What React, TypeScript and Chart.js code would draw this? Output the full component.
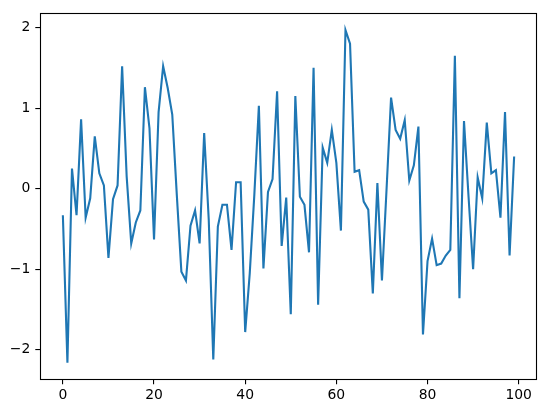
import React, { useEffect, useRef } from "react";
import { Chart, registerables } from "chart.js";

Chart.register(...registerables);

const seriesValues: number[] = [
  -0.33, -2.16, 0.25, -0.33, 0.86, -0.36, -0.12, 0.65, 0.19, 0.04,
  -0.86, -0.13, 0.04, 1.52, 0.15, -0.68, -0.42, -0.27, 1.26, 0.75,
  -0.63, 0.95, 1.52, 1.25, 0.92, -0.08, -1.03, -1.14, -0.46, -0.27,
  -0.68, 0.69, -0.38, -2.12, -0.47, -0.2, -0.2, -0.76, 0.08, 0.08,
  -1.78, -1.05, -0.08, 1.03, -0.99, -0.04, 0.12, 1.21, -0.71, -0.11,
  -1.56, 1.15, -0.1, -0.2, -0.79, 1.5, -1.44, 0.51, 0.32, 0.73,
  0.32, -0.52, 1.97, 1.8, 0.21, 0.23, -0.16, -0.26, -1.3, 0.07,
  -1.14, -0.02, 1.13, 0.73, 0.62, 0.85, 0.1, 0.29, 0.77, -1.81,
  -0.9, -0.62, -0.95, -0.93, -0.83, -0.76, 1.65, -1.36, 0.84, -0.1,
  -1.0, 0.14, -0.12, 0.82, 0.19, 0.23, -0.36, 0.95, -0.83, 0.4,
];

const xTickValues: number[] = [0, 20, 40, 60, 80, 100];
const yTickValues: number[] = [-2, -1, 0, 1, 2];

const FONT = { family: "'DejaVu Sans', sans-serif", size: 13.9 };

export default function App() {
  const canvasRef = useRef<HTMLCanvasElement | null>(null);

  useEffect(() => {
    document.body.style.margin = "0";
    const canvas = canvasRef.current;
    if (!canvas) return;

    const n = seriesValues.length;
    const xMargin = (n - 1) * 0.05;
    const yMinData = Math.min(...seriesValues);
    const yMaxData = Math.max(...seriesValues);
    const yMargin = (yMaxData - yMinData) * 0.05;

    const framePlugin = {
      id: "frame",
      afterDatasetsDraw(chart: any) {
        const { ctx, chartArea } = chart;
        ctx.save();
        ctx.strokeStyle = "#000";
        ctx.lineWidth = 1.1;
        ctx.strokeRect(
          Math.round(chartArea.left) + 0.5,
          Math.round(chartArea.top) + 0.5,
          Math.round(chartArea.right - chartArea.left),
          Math.round(chartArea.bottom - chartArea.top)
        );
        ctx.restore();
      },
    };

    const chart = new Chart(canvas, {
      type: "line",
      data: {
        datasets: [
          {
            data: seriesValues.map((v, i) => ({ x: i, y: v })),
            borderColor: "#1f77b4",
            borderWidth: 2.1,
            pointRadius: 0,
            tension: 0,
            fill: false,
          },
        ],
      },
      options: {
        responsive: false,
        animation: false,
        devicePixelRatio: 1,
        layout: { padding: { top: 10.7, right: 9.3, left: 0, bottom: 0 } },
        plugins: { legend: { display: false }, tooltip: { enabled: false } },
        scales: {
          x: {
            type: "linear",
            min: -xMargin,
            max: n - 1 + xMargin,
            afterFit(scale: any) {
              scale.height = 33.7;
            },
            afterBuildTicks(scale: any) {
              scale.ticks = xTickValues.map((v) => ({ value: v }));
            },
            border: { display: false },
            grid: {
              drawOnChartArea: false,
              drawTicks: true,
              tickLength: 5,
              color: "#000",
              lineWidth: 1.1,
            },
            ticks: {
              color: "#000",
              font: FONT,
              padding: 3,
              maxRotation: 0,
              autoSkip: false,
              callback: (v: any) => String(v),
            },
          },
          y: {
            type: "linear",
            min: yMinData - yMargin,
            max: yMaxData + yMargin,
            afterFit(scale: any) {
              scale.width = 40.3;
            },
            afterBuildTicks(scale: any) {
              scale.ticks = yTickValues.map((v) => ({ value: v }));
            },
            border: { display: false },
            grid: {
              drawOnChartArea: false,
              drawTicks: true,
              tickLength: 5,
              color: "#000",
              lineWidth: 1.1,
            },
            ticks: {
              color: "#000",
              font: FONT,
              padding: 5,
              autoSkip: false,
              callback: (v: any) => (v < 0 ? "\u2212" + Math.abs(v) : String(v)),
            },
          },
        },
      },
      plugins: [framePlugin],
    });

    return () => chart.destroy();
  }, []);

  return (
    <div style={{ width: 546, height: 413, background: "#fff" }}>
      <canvas ref={canvasRef} width={546} height={413} style={{ display: "block" }} />
    </div>
  );
}
